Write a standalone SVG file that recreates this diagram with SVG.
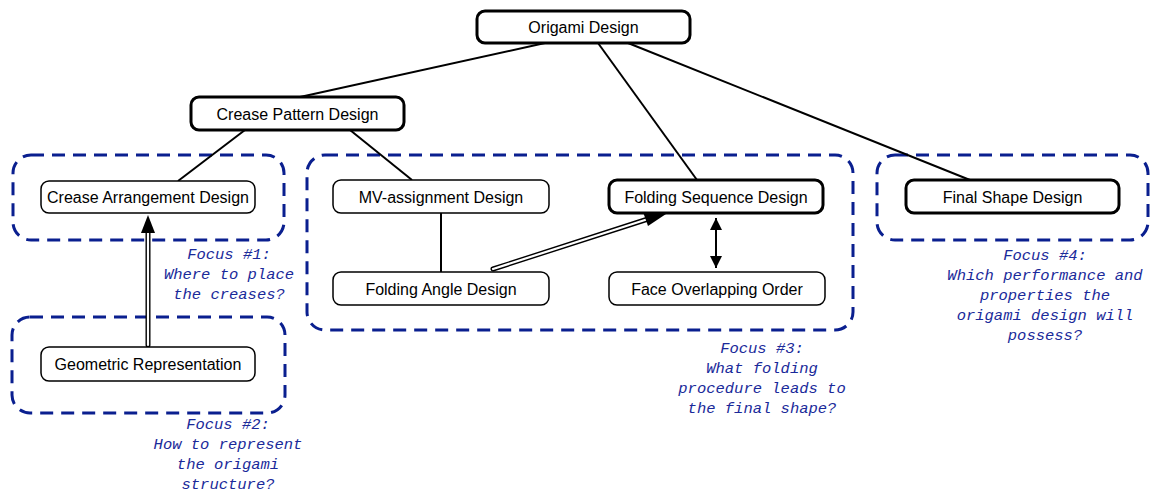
<svg xmlns="http://www.w3.org/2000/svg" width="1153" height="493" viewBox="0 0 1153 493">
  <style>
    .node { fill: #fff; stroke: #000; stroke-width: 1.5; }
    .bold { stroke-width: 3; }
    .label { font-family: "Liberation Sans", Arial, sans-serif; font-size: 16px; fill: #000; text-anchor: middle; }
    .group { fill: none; stroke: #0a1f8f; stroke-width: 3; stroke-dasharray: 13 8; }
    .focus { font-family: "Liberation Mono", "Courier New", monospace; font-style: italic; font-size: 15.5px; fill: #1a2a9a; text-anchor: middle; }
    .edge { stroke: #000; stroke-width: 2; fill: none; }
    .dbl-outer { stroke: #000; stroke-width: 5; stroke-linecap: round; fill: none; }
    .dbl-inner { stroke: #fff; stroke-width: 2.2; stroke-linecap: round; fill: none; }
  </style>
  <defs>
    <marker id="headSmall" viewBox="0 0 10 10" refX="10" refY="5" markerWidth="7" markerHeight="6" markerUnits="strokeWidth" orient="auto-start-reverse">
      <path d="M0,0 L10,5 L0,10 Z" fill="#000"/>
    </marker>
  </defs>

  <!-- focus areas -->
  <g id="focus-areas">
    <rect class="group" x="13" y="155" width="271" height="85" rx="18"/>
    <rect class="group" x="12" y="317" width="273" height="96" rx="18"/>
    <rect class="group" x="307" y="155" width="546" height="175" rx="18"/>
    <rect class="group" x="877" y="155" width="271" height="85" rx="18"/>
  </g>

  <!-- connectors -->
  <g id="connectors">
    <line class="edge" x1="545" y1="43" x2="300" y2="97"/>
    <line class="edge" x1="598" y1="43" x2="697" y2="180"/>
    <line class="edge" x1="628" y1="43" x2="970" y2="180"/>
    <line class="edge" x1="245" y1="130" x2="178" y2="181"/>
    <line class="edge" x1="350" y1="130" x2="412" y2="180"/>
    <line class="edge" x1="441" y1="213" x2="441" y2="272"/>
    <line class="edge" x1="716" y1="218" x2="716" y2="268" marker-start="url(#headSmall)" marker-end="url(#headSmall)"/>
    <!-- hollow (double) arrows -->
    <g id="hollow-arrow-1">
      <line class="dbl-outer" x1="148" y1="345" x2="148" y2="230"/>
      <line class="dbl-inner" x1="148" y1="345" x2="148" y2="230"/>
      <path d="M141,233 L148,215 L155,233 Z" fill="#000"/>
    </g>
    <g id="hollow-arrow-2">
      <line class="dbl-outer" x1="493" y1="269" x2="648" y2="219"/>
      <line class="dbl-inner" x1="493" y1="269" x2="648" y2="219"/>
      <path d="M643,212 L666,214 L648,226 Z" fill="#000"/>
    </g>
  </g>

  <g id="origami-design">
    <rect class="node bold" x="477" y="11" width="213" height="32" rx="8"/>
    <text class="label" x="583.5" y="33">Origami Design</text>
  </g>
  <g id="crease-pattern-design">
    <rect class="node bold" x="191" y="97" width="213" height="33" rx="8"/>
    <text class="label" x="297.5" y="119.5">Crease Pattern Design</text>
  </g>
  <g id="crease-arrangement-design">
    <rect class="node" x="41" y="181" width="214" height="32" rx="8"/>
    <text class="label" x="148" y="202.5">Crease Arrangement Design</text>
  </g>
  <g id="geometric-representation">
    <rect class="node" x="41" y="347" width="214" height="34" rx="8"/>
    <text class="label" x="148" y="369.5">Geometric Representation</text>
  </g>
  <g id="mv-assignment-design">
    <rect class="node" x="333" y="180" width="216" height="33" rx="8"/>
    <text class="label" x="441" y="202.5">MV-assignment Design</text>
  </g>
  <g id="folding-angle-design">
    <rect class="node" x="333" y="272" width="216" height="33" rx="8"/>
    <text class="label" x="441" y="294.5">Folding Angle Design</text>
  </g>
  <g id="folding-sequence-design">
    <rect class="node bold" x="609" y="180" width="214" height="33" rx="8"/>
    <text class="label" x="716" y="202.5">Folding Sequence Design</text>
  </g>
  <g id="face-overlapping-order">
    <rect class="node" x="609" y="272" width="216" height="33" rx="8"/>
    <text class="label" x="717" y="294.5">Face Overlapping Order</text>
  </g>
  <g id="final-shape-design">
    <rect class="node bold" x="906" y="180" width="213" height="33" rx="8"/>
    <text class="label" x="1012.5" y="202.5">Final Shape Design</text>
  </g>

  <!-- focus questions -->
  <g id="focus-notes">
    <text class="focus" x="229" y="259">Focus #1:</text>
    <text class="focus" x="229" y="279">Where to place</text>
    <text class="focus" x="229" y="299">the creases?</text>

    <text class="focus" x="228" y="429">Focus #2:</text>
    <text class="focus" x="228" y="449">How to represent</text>
    <text class="focus" x="228" y="469">the origami</text>
    <text class="focus" x="228" y="489">structure?</text>

    <text class="focus" x="762" y="353">Focus #3:</text>
    <text class="focus" x="762" y="373">What folding</text>
    <text class="focus" x="762" y="393">procedure leads to</text>
    <text class="focus" x="762" y="413">the final shape?</text>

    <text class="focus" x="1045" y="260">Focus #4:</text>
    <text class="focus" x="1045" y="280">Which performance and</text>
    <text class="focus" x="1045" y="300">properties the</text>
    <text class="focus" x="1045" y="320">origami design will</text>
    <text class="focus" x="1045" y="340">possess?</text>
  </g>
</svg>
